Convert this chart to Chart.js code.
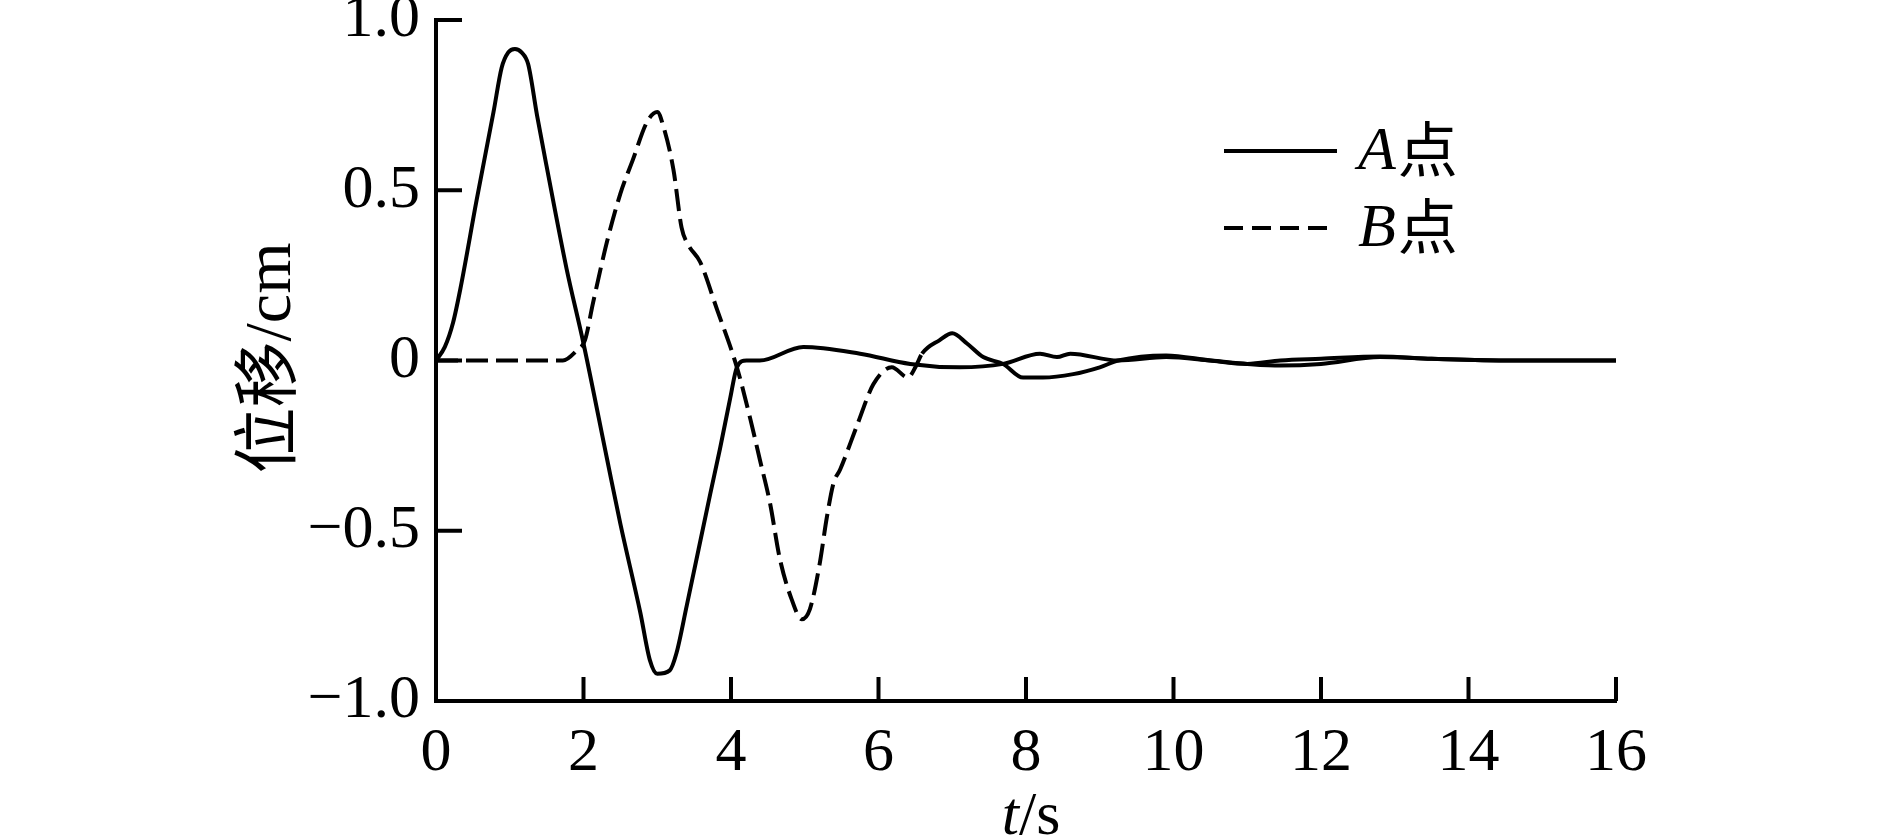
<!DOCTYPE html>
<html>
<head>
<meta charset="utf-8">
<script src="https://cdn.jsdelivr.net/npm/chart.js@4.4.0/dist/chart.umd.min.js"></script>
<style>
  html, body { margin: 0; padding: 0; background: #fff; }
  #wrap { width: 1889px; height: 838px; }
</style>
</head>
<body>
<div id="wrap"><canvas id="myChart" width="1889" height="838"></canvas></div>
<script>
// A点 (solid)
const tA = [0, 0.12, 0.23, 0.33, 0.55, 0.78, 0.89, 0.98, 1.07, 1.16, 1.25, 1.37, 1.5, 1.77, 2.0, 2.32, 2.5, 2.77, 2.9, 3.0, 3.17, 3.26, 3.4, 3.72, 3.85, 3.99, 4.08, 4.21, 4.39, 4.98, 5.75, 6.43, 7.1, 7.69, 8.19, 8.42, 8.6, 9.25, 9.9, 10.5, 11.0, 11.45, 12.0, 12.8, 13.5, 14.5, 15.5, 16]
const vA = [0, 0.04, 0.11, 0.21, 0.47, 0.73, 0.86, 0.905, 0.915, 0.905, 0.87, 0.72, 0.57, 0.27, 0.05, -0.29, -0.48, -0.74, -0.88, -0.92, -0.91, -0.86, -0.72, -0.39, -0.26, -0.11, -0.02, 0, 0, 0.04, 0.02, -0.01, -0.02, -0.01, 0.02, 0.01, 0.02, 0, 0.01, 0, -0.01, -0.015, -0.01, 0.01, 0.005, 0, 0, 0]

// B点 (dashed)
const tB = [0, 1.72, 1.91, 2.02, 2.13, 2.32, 2.5, 2.67, 2.86, 3.0, 3.08, 3.22, 3.33, 3.42, 3.58, 3.81, 4.08, 4.26, 4.39, 4.53, 4.66, 4.82, 4.96, 5.07, 5.2, 5.3, 5.39, 5.48, 5.71, 5.93, 6.18, 6.4, 6.5, 6.59, 6.83, 7.0, 7.2, 7.42, 7.69, 7.96, 8.23, 8.64, 9.0, 9.25, 9.9, 10.5, 11.0, 11.45, 12.0, 12.8, 13.5, 14.5, 15.5, 16]
const vB = [0, 0, 0.03, 0.06, 0.17, 0.35, 0.49, 0.59, 0.70, 0.73, 0.69, 0.56, 0.39, 0.34, 0.29, 0.15, -0.02, -0.17, -0.29, -0.42, -0.58, -0.70, -0.76, -0.73, -0.60, -0.46, -0.36, -0.32, -0.19, -0.07, -0.02, -0.05, -0.02, 0.02, 0.06, 0.08, 0.05, 0.01, -0.01, -0.05, -0.05, -0.04, -0.02, 0, 0.015, 0, -0.01, 0, 0.005, 0.012, 0.005, 0, 0, 0]

const xTicks = [0, 2, 4, 6, 8, 10, 12, 14, 16]
const xTickLabels = ['0', '2', '4', '6', '8', '10', '12', '14', '16']
const yTicks = [-1, -0.5, 0, 0.5, 1]
const yTickLabels = ['\u22121.0', '\u22120.5', '0', '0.5', '1.0']

const seriesLabels = ['A', 'B']
const serif = "'Liberation Serif', 'Noto Sans CJK SC', serif"
const cjk = "'Noto Sans CJK SC', sans-serif"

function pts(t, v) {
    return t.map((x, i) => ({ x: x, y: v[i] }))
}

// inward ticks, legend and axis titles
const extras = {
    id: 'extras',
    afterDraw(chart) {
        const ctx = chart.ctx
        const xs = chart.scales.x, ys = chart.scales.y
        const area = chart.chartArea
        ctx.save()
        ctx.strokeStyle = '#000'
        ctx.fillStyle = '#000'
        ctx.lineWidth = 4
        ctx.lineCap = 'butt'
        for (let i = 1; i < xTicks.length; i++) {
            let px = xs.getPixelForValue(xTicks[i])
            ctx.beginPath()
            ctx.moveTo(px, area.bottom)
            ctx.lineTo(px, area.bottom - 24)
            ctx.stroke()
        }
        for (let i = 0; i < yTicks.length; i++) {
            if (yTicks[i] == -1) continue
            let py = ys.getPixelForValue(yTicks[i])
            ctx.beginPath()
            ctx.moveTo(area.left, py)
            ctx.lineTo(area.left + 26, py)
            ctx.stroke()
        }

        // legend
        const lx = 1224, tx = 1358
        const rows = [151, 228]
        chart.data.datasets.forEach((ds, i) => {
            let y = rows[i]
            ctx.save()
            ctx.lineWidth = 4
            ctx.setLineDash(i == 0 ? [] : [19, 9])
            ctx.beginPath()
            ctx.moveTo(lx, y)
            ctx.lineTo(i == 0 ? 1337 : 1327, y)
            ctx.stroke()
            ctx.restore()
            ctx.textBaseline = 'middle'
            ctx.textAlign = 'left'
            ctx.font = "italic 62px " + serif
            ctx.fillText(seriesLabels[i], tx, y + 2)
            let w = ctx.measureText(seriesLabels[i]).width
            ctx.font = "60px " + cjk
            ctx.fillText('点', tx + w + 2, y - 2)
        })

        // x title  t/s
        ctx.textBaseline = 'alphabetic'
        ctx.font = "italic 62px " + serif
        let wt = ctx.measureText('t').width
        ctx.font = "62px " + serif
        let ws = ctx.measureText('/s').width
        let x0 = 1031 - (wt + ws) / 2
        ctx.font = "italic 62px " + serif
        ctx.fillText('t', x0, 834)
        ctx.font = "62px " + serif
        ctx.fillText('/s', x0 + wt, 834)

        // y title
        ctx.save()
        ctx.translate(290, 358)
        ctx.rotate(-Math.PI / 2)
        ctx.textAlign = 'center'
        ctx.textBaseline = 'alphabetic'
        ctx.font = "66px " + serif
        ctx.fillText('位移/cm', 0, 0)
        ctx.restore()

        ctx.restore()
    }
}

Chart.defaults.font.family = serif
Chart.defaults.color = '#000'

const chart = new Chart(document.getElementById('myChart'), {
    type: 'line',
    data: {
        datasets: [{
            label: 'A点',
            data: pts(tA, vA),
            borderColor: '#000',
            borderWidth: 4,
            pointRadius: 0,
            cubicInterpolationMode: 'monotone',
            fill: false
        }, {
            label: 'B点',
            data: pts(tB, vB),
            borderColor: '#000',
            borderWidth: 4,
            pointRadius: 0,
            cubicInterpolationMode: 'monotone',
            fill: false,
            segment: {
                borderDash: c => c.p0.parsed.x < 6.55 ? [22, 8] : []
            }
        }]
    },
    options: {
        responsive: false,
        animation: false,
        layout: { padding: { top: 20, right: 273, left: 0, bottom: 0 } },
        plugins: { legend: { display: false }, tooltip: { enabled: false } },
        scales: {
            x: {
                type: 'linear',
                min: 0, max: 16,
                grid: { display: false, drawTicks: false },
                border: { display: true, color: '#000', width: 4 },
                afterBuildTicks: s => { s.ticks = xTicks.map(v => ({ value: v })) },
                ticks: {
                    padding: 16,
                    maxRotation: 0,
                    autoSkip: false,
                    font: { size: 62 },
                    callback: (v) => xTickLabels[xTicks.indexOf(v)]
                },
                afterFit: s => { s.height = 137; s.paddingLeft = 0; s.paddingRight = 0 }
            },
            y: {
                type: 'linear',
                min: -1, max: 1,
                grid: { display: false, drawTicks: false },
                border: { display: true, color: '#000', width: 4 },
                afterBuildTicks: s => { s.ticks = yTicks.map(v => ({ value: v })) },
                ticks: {
                    padding: 16,
                    autoSkip: false,
                    font: { size: 62 },
                    callback: (v) => yTickLabels[yTicks.indexOf(v)]
                },
                afterFit: s => { s.width = 436; s.paddingTop = 0; s.paddingBottom = 0 }
            }
        }
    },
    plugins: [extras]
})
</script>
</body>
</html>
